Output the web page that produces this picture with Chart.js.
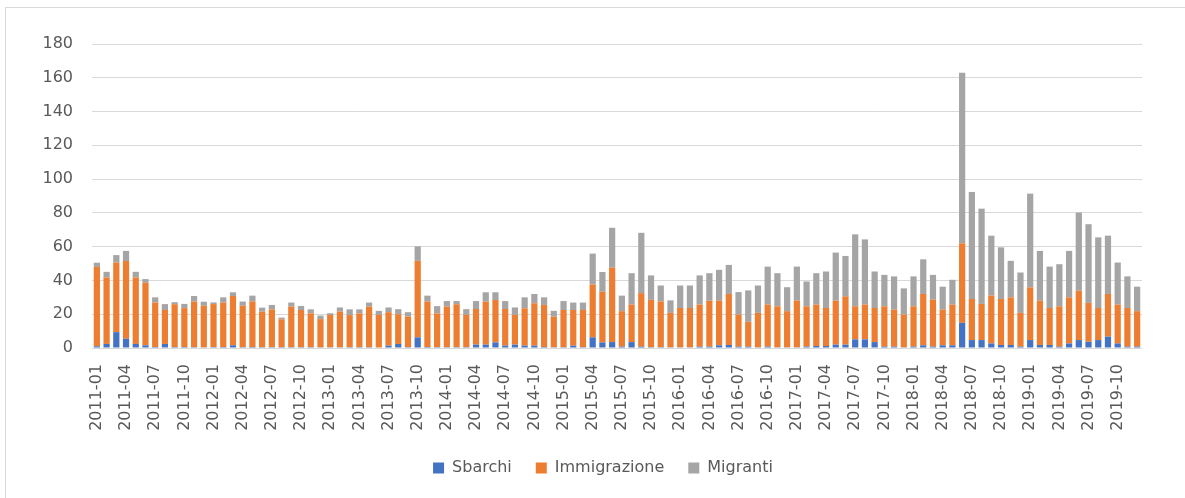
<!DOCTYPE html>
<html>
<head>
<meta charset="utf-8">
<script src="https://cdn.jsdelivr.net/npm/chart.js@4/dist/chart.umd.min.js"></script>
<style>
  html, body { margin: 0; padding: 0; background: #fff; overflow: hidden; }
  #frame { position: absolute; left: 5px; top: 7px; width: 1200px; height: 520px; border: 1px solid #d9d9d9; box-sizing: border-box; }
  #wrap { position: absolute; left: 0; top: 0; width: 1185px; height: 498px; }
</style>
</head>
<body>
<div id="frame"></div>
<div id="wrap"><canvas id="c" width="1185" height="498"></canvas></div>
<script>
// Categories: monthly 2011-01 .. 2019-12
const years = [2011, 2012, 2013, 2014, 2015, 2016, 2017, 2018, 2019];
const monthNums = ['01','02','03','04','05','06','07','08','09','10','11','12'];
const months = [];
years.forEach(y => monthNums.forEach(m => months.push(y + '-' + m)));

const sbarchi = [
  1, 2.4, 9.4, 5.5, 2.4, 1.6, 0.6, 2.4, 0.6, 0.6, 0.5, 0.4,
  0.5, 0.6, 1.6, 0.5, 0.6, 0.5, 0.5, 0.5, 0.5, 0.5, 0.5, 0.4,
  0.4, 0.4, 0.5, 0.5, 0.5, 0.3, 1.4, 2.4, 0.5, 6.3, 0.6, 0.5,
  0.5, 0.5, 0.5, 2, 2, 3.3, 1.4, 2, 1.4, 1.4, 0.6, 0.4,
  0.5, 1.4, 0.5, 6.3, 3.3, 3.5, 0.8, 3.5, 0.8, 0.5, 0.5, 0.4,
  0.4, 0.4, 0.8, 0.8, 1.6, 1.8, 0.8, 0.8, 0.4, 0.8, 0.4, 0.4,
  0.4, 0.8, 1.2, 1.2, 2, 2, 5.1, 5.1, 3.5, 0.8, 0.8, 0.4,
  0.8, 1.6, 0.8, 1.6, 1.6, 14.9, 4.7, 4.7, 2.7, 1.8, 1.8, 0.8,
  4.7, 1.8, 1.8, 0.8, 2.7, 4.7, 3.7, 4.7, 6.7, 2.7, 0.8, 0.8
];
const immigrazione = [
  47, 39.4, 41.2, 46, 39.4, 37, 26.3, 20.1, 25.3, 23, 27, 24.6,
  25.5, 26.3, 29.2, 24.5, 27, 21, 22.4, 16.5, 24, 22, 20, 16.7,
  19.2, 21.2, 19, 20, 24, 19.3, 19.8, 17.6, 18.1, 45.3, 26.9, 20,
  24, 25.4, 19.1, 21.1, 25.5, 25.1, 21.7, 17.6, 22.1, 25.1, 24.9, 18.2,
  22, 21.1, 22, 31.3, 30, 44.1, 21, 22.2, 31.7, 28, 27.1, 20.4,
  23.3, 23.3, 24.9, 27.2, 26.4, 30.2, 19, 14.7, 20.4, 24.9, 24.3, 21.4,
  27.6, 23.9, 24.5, 22.5, 26, 28.6, 19.6, 20.6, 20.2, 23.9, 21.9, 19.4,
  23.9, 30.4, 27.8, 21.1, 24.1, 47.1, 24.3, 21.4, 28.3, 27.2, 28.2, 20,
  31.2, 26.2, 21.9, 23.9, 27.3, 29.2, 23, 19, 25.3, 23, 22.9, 21
];
const migranti = [
  2.5, 3.3, 4.4, 6, 3.3, 2.2, 3.1, 3.5, 1.2, 2.5, 3.3, 2.4,
  1, 3.1, 2.2, 2.5, 3.4, 2.4, 2.6, 1, 2.4, 2.4, 2.4, 2.1,
  1, 2.4, 3.4, 2.4, 2.4, 2.4, 2.8, 3, 2.6, 8.6, 3.5, 4.3,
  3.3, 1.9, 3.4, 4.7, 5.5, 4.6, 4.7, 4.4, 6.5, 5.5, 4.5, 3.4,
  5.3, 4.4, 4.4, 18.3, 11.7, 23.6, 9.2, 18.6, 35.7, 14.5, 9.4, 7.4,
  13.3, 13.3, 17.3, 16.3, 18.3, 17.2, 13.3, 18.6, 16.2, 22.5, 19.6, 14.2,
  20.2, 14.7, 18.6, 21.6, 28.5, 23.9, 42.6, 38.6, 21.6, 18.6, 19.7, 15.5,
  17.7, 20.5, 14.7, 13.6, 14.7, 101, 63.4, 56.4, 35.5, 30.6, 21.6, 23.9,
  55.5, 29.5, 24.5, 24.9, 27.5, 46.3, 46.6, 41.8, 34.5, 24.9, 18.7, 14.5
];
const yTicks = [0, 20, 40, 60, 80, 100, 120, 140, 160, 180];

const FONT = "'DejaVu Sans', sans-serif";
const TXT = '#595959';

new Chart(document.getElementById('c'), {
  type: 'bar',
  data: {
    labels: months,
    datasets: [
      { label: 'Sbarchi', data: sbarchi, backgroundColor: '#4472C4' },
      { label: 'Immigrazione', data: immigrazione, backgroundColor: '#ED7D31' },
      { label: 'Migranti', data: migranti, backgroundColor: '#A5A5A5' }
    ]
  },
  options: {
    responsive: false,
    animation: false,
    events: [],
    datasets: { bar: { barPercentage: 0.64, categoryPercentage: 1.0 } },
    layout: { padding: { left: 21, right: 0, top: 44, bottom: 12 } },
    plugins: {
      tooltip: { enabled: false },
      legend: {
        position: 'bottom',
        labels: {
          color: TXT,
          font: { family: FONT, size: 16 },
          boxWidth: 11,
          boxHeight: 11,
          padding: 24
        }
      }
    },
    scales: {
      x: {
        stacked: true,
        grid: { display: false },
        border: { display: false },
        ticks: {
          color: TXT,
          font: { family: FONT, size: 16 },
          autoSkip: false,
          minRotation: 90,
          maxRotation: 90,
          padding: 8,
          callback: function (v, i) { return i % 3 === 0 ? months[i] : ''; }
        },
        afterFit: function (s) { s.height = 88; }
      },
      y: {
        stacked: true,
        min: 0,
        max: 180,
        afterBuildTicks: function (s) { s.ticks = yTicks.map(v => ({ value: v })); },
        grid: { color: '#d9d9d9', lineWidth: 1, drawTicks: false },
        border: { display: false },
        ticks: {
          color: TXT,
          font: { family: FONT, size: 16 },
          padding: 19
        },
        afterFit: function (s) { s.width = 71; }
      },
      yRight: {
        type: 'linear',
        position: 'right',
        display: true,
        min: 0,
        max: 180,
        grid: { display: false, drawTicks: false },
        border: { display: false },
        ticks: { display: false },
        afterFit: function (s) { s.width = 43; }
      }
    }
  }
});
</script>
</body>
</html>
